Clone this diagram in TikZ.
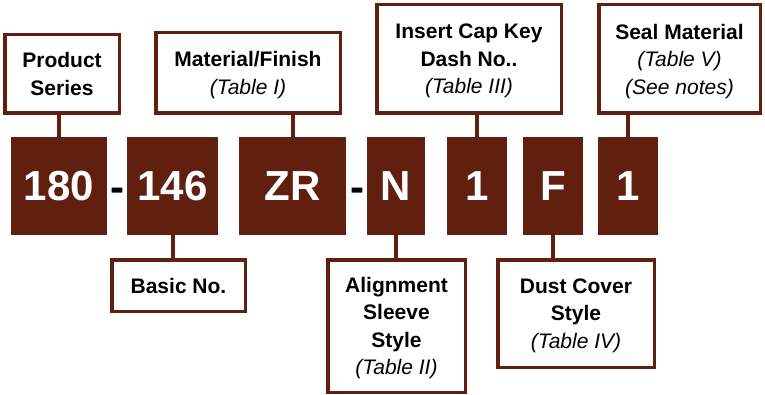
\documentclass[tikz,border=0pt]{standalone}
\usepackage{fontspec}
\setmainfont{Liberation Sans}
\definecolor{brn}{RGB}{97,31,16}
\newcommand\tabref[1]{\raisebox{0pt}[\height][0pt]{\mdseries\itshape #1}}
\begin{document}
\begin{tikzpicture}[x=1pt,y=-1pt,
  lab/.style={draw=brn, line width=3.5pt, fill=white, align=center, inner sep=0pt,
    font=\fontsize{21}{27.5}\selectfont\bfseries},
  dig/.style={fill=brn, text=white, inner sep=0pt, minimum height=98pt,
    font=\fontsize{42}{42}\selectfont\bfseries},
  hyph/.style={anchor=base, inner sep=0pt, text=black, font=\fontsize{42}{42}\selectfont\bfseries},
  stem/.style={draw=brn, line width=4pt}]
\useasboundingbox (0,0) rectangle (765,395);
% code boxes
\node[dig, minimum width=96pt] (d1) at (59,186) {180};
\node[dig, minimum width=91pt] (d2) at (172.5,186) {146};
\node[dig, minimum width=107pt] (d3) at (292.5,186) {ZR};
\node[dig, minimum width=58pt] (d4) at (396,186) {N};
\node[dig, minimum width=60pt] (d5) at (477,186) {1};
\node[dig, minimum width=60pt] (d6) at (553,186) {F};
\node[dig, minimum width=60pt] (d7) at (628,186) {1};
\node[hyph] (h1) at (117,202) {-};
\node[hyph] (h2) at (357,202) {-};
% stems
\draw[stem] (d1.north) -- (d1.north |- 0,115);
\draw[stem] (d3.north) -- (d3.north |- 0,115);
\draw[stem] (d5.north) -- (d5.north |- 0,115);
\draw[stem] (d7.north) -- (d7.north |- 0,115);
\draw[stem] (d2.south) -- (d2.south |- 0,260);
\draw[stem] (d4.south) -- (d4.south |- 0,260);
\draw[stem] (d6.south) -- (d6.south |- 0,260);
% label boxes
\node[lab, minimum width=114.5pt, minimum height=78.5pt] (ps) at (62,74) {Product\\Series};
\node[lab, minimum width=184.5pt, minimum height=80.5pt] (mf) at (248,73) {Material/Finish\\\tabref{(Table I)}};
\node[lab, minimum width=184.5pt, minimum height=108.5pt] (ic) at (469,59) {Insert Cap Key\\Dash No..\\\tabref{(Table III)}};
\node[lab, minimum width=161.5pt, minimum height=108.5pt] (sm) at (679.5,59) {Seal Material\\\tabref{(Table V)}\\\tabref{(See notes)}};
\node[lab, minimum width=133.5pt, minimum height=51.5pt] (bn) at (178.5,285.5) {Basic No.};
\node[lab, minimum width=137.5pt, minimum height=132.5pt] (as) at (396.5,326) {Alignment\\Sleeve\\Style\\\tabref{(Table II)}};
\node[lab, minimum width=156.5pt, minimum height=107.5pt] (dc) at (576,313.5) {Dust Cover\\Style\\\tabref{(Table IV)}};
\end{tikzpicture}
\end{document}
